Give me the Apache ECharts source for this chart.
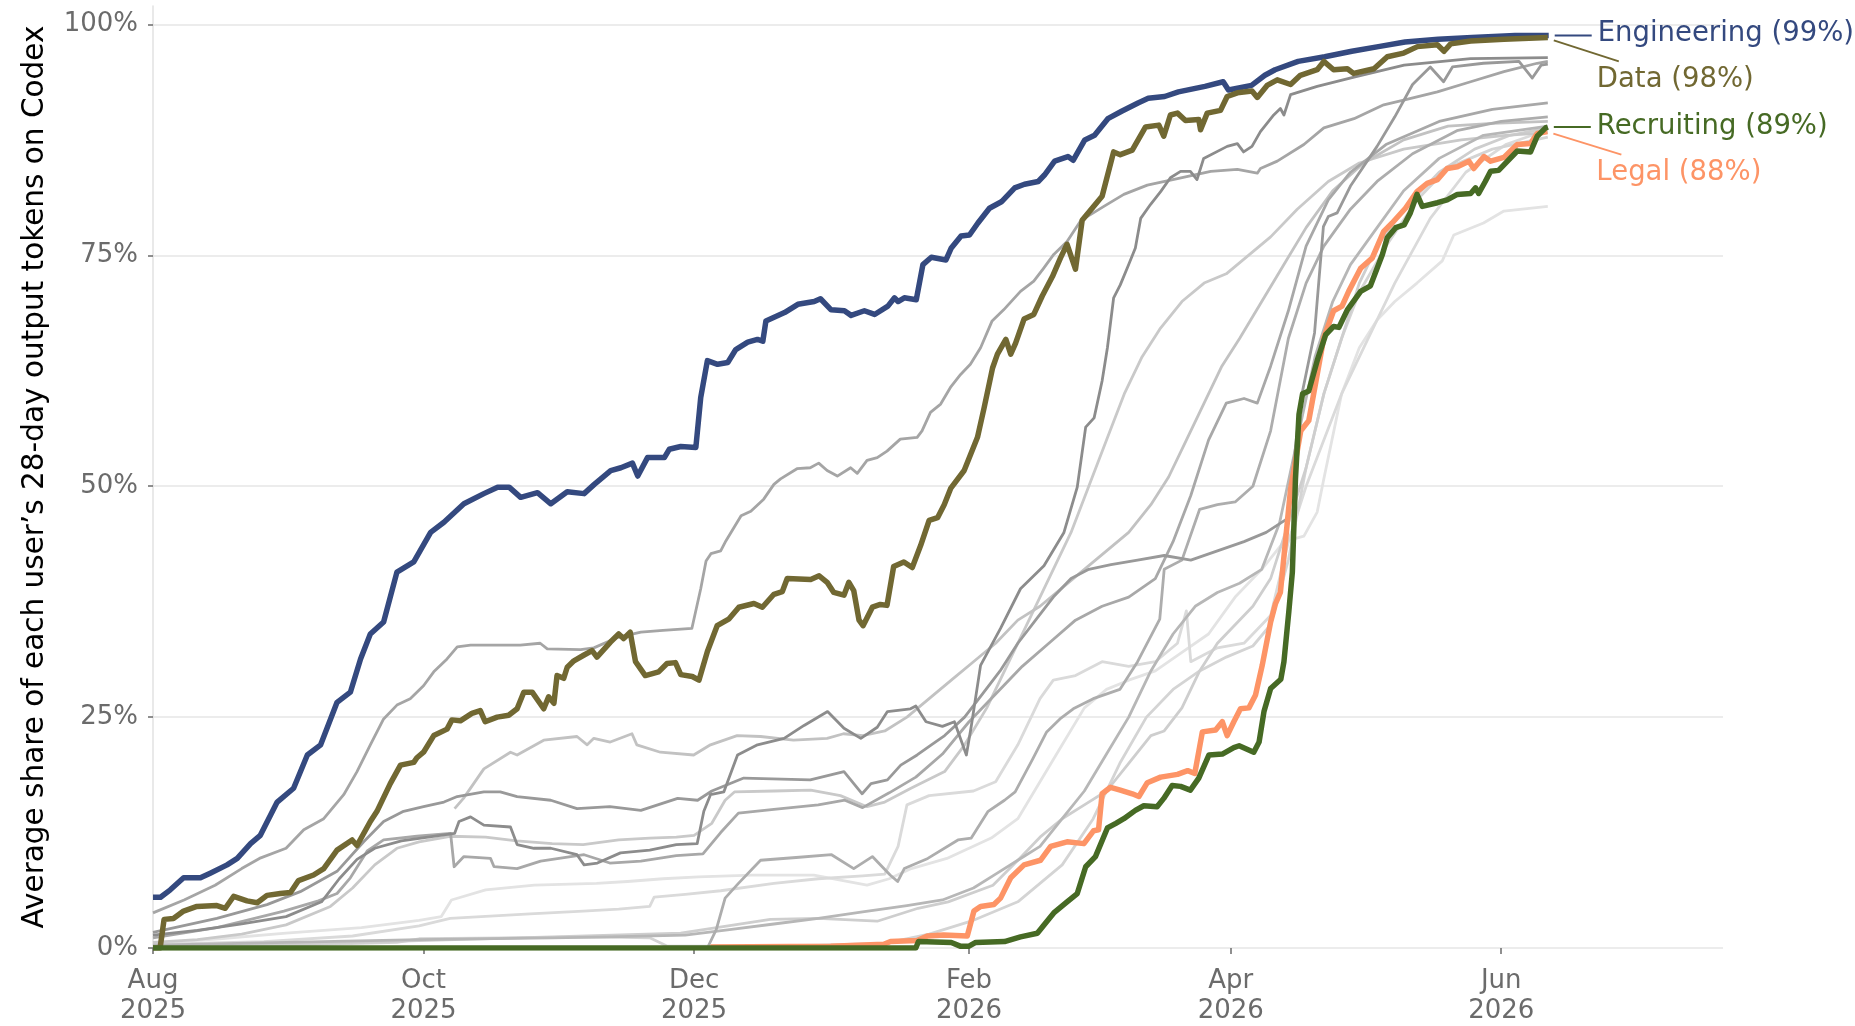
<!DOCTYPE html>
<html>
<head>
<meta charset="utf-8">
<title>Codex share by department</title>
<script src="https://cdn.jsdelivr.net/npm/echarts@6/dist/echarts.min.js"></script>
<style>
  html, body { margin: 0; padding: 0; background: #fff; }
  #main { width: 1855px; height: 1026px; }
</style>
</head>
<body>
<div id="main"></div>
<script>
// x = days since 2025-08-01, y = percent
const dayTicks = [0, 61, 122, 184, 243, 304];
const tickLabels = ['Aug\n2025', 'Oct\n2025', 'Dec\n2025', 'Feb\n2026', 'Apr\n2026', 'Jun\n2026'];
const percentTicks = [0, 25, 50, 75, 100];
const lastDay = 354;

const engineering = [[0,5.5],[1.7,5.5],[3.9,6.3],[6.9,7.6],[10.7,7.6],[12.9,8.1],[16.7,9.0],[19,9.7],[22,11.3],[24.2,12.2],[28,15.8],[31.7,17.3],[34.8,20.9],[37.8,22.0],[41.5,26.6],[44.5,27.7],[46.8,31.3],[49,34.0],[52,35.3],[55,40.7],[58.8,41.8],[62.6,45.0],[65.6,46.1],[70.1,48.1],[74.6,49.2],[77.7,49.9],[80.3,49.9],[82.9,48.8],[86.7,49.3],[89.7,48.1],[93.4,49.4],[97.2,49.2],[99.5,50.2],[103.2,51.7],[105.5,52.0],[108.1,52.5],[109.3,51.1],[111.5,53.1],[115.3,53.1],[116.4,54.0],[119,54.3],[122.4,54.2],[123.5,59.6],[125,63.6],[127.3,63.2],[129.6,63.4],[131.4,64.8],[134.1,65.6],[136.3,65.9],[137.5,65.7],[138.2,67.9],[142.4,68.8],[145.4,69.7],[149.1,70.0],[150.5,70.3],[152.9,69.1],[155.9,69.0],[157.4,68.5],[160.4,69.0],[162.7,68.6],[165.7,69.5],[167.2,70.4],[168,70.0],[169.4,70.4],[172.1,70.2],[173.6,74.0],[175.5,74.8],[178.8,74.5],[180,75.8],[182.2,77.1],[184.1,77.2],[186,78.5],[188.6,80.1],[191.3,80.8],[194.3,82.3],[196.5,82.7],[199.6,83.0],[201,83.7],[203.3,85.2],[206.3,85.7],[207.5,85.3],[210.1,87.5],[212.3,88.0],[215.3,89.8],[218.4,90.6],[222.1,91.5],[224.4,92.0],[228.1,92.2],[231.2,92.7],[237.2,93.3],[241.3,93.8],[242.5,92.9],[247.7,93.4],[250.7,94.5],[253,95.1],[258.2,96.0],[264.2,96.5],[270.3,97.1],[276.3,97.6],[282.3,98.1],[289.8,98.4],[297.4,98.6],[307.1,98.8],[314.7,98.8]];

const dataDept = [[0,0],[1.6,0],[2.5,3.1],[4.6,3.2],[6.9,4.0],[9.9,4.5],[14.4,4.6],[16.3,4.3],[18.2,5.6],[21.2,5.1],[23.5,4.9],[25.7,5.7],[28.7,5.9],[31,6.0],[32.8,7.3],[36.2,7.9],[38.5,8.6],[41.5,10.6],[44.9,11.7],[46,11.1],[49,13.7],[50.5,14.8],[53.5,17.8],[55.8,19.8],[58.8,20.1],[59.5,20.6],[61,21.2],[63.3,23.0],[66.3,23.7],[67.4,24.7],[69.3,24.6],[71.9,25.4],[73.8,25.7],[74.9,24.5],[77.6,25.0],[80.2,25.2],[82.1,25.9],[83.6,27.7],[85.5,27.7],[88.1,25.9],[89.2,27.2],[90.4,26.5],[91.1,29.5],[92.6,29.2],[93.4,30.4],[94.9,31.1],[97.1,31.7],[99,32.2],[100.1,31.5],[103.1,33.1],[105,34.0],[106.1,33.5],[107.6,34.2],[108.8,31.0],[111,29.5],[114,29.9],[115.9,30.8],[117.8,30.9],[119,29.6],[121.6,29.4],[123.1,29.0],[125,32.1],[127.2,34.9],[129.8,35.6],[132.1,36.9],[135.5,37.3],[137.4,36.9],[140,38.3],[141.9,38.6],[143,40.0],[148.3,39.9],[150.2,40.3],[152,39.6],[153.5,38.5],[155.8,38.2],[156.9,39.6],[158,38.7],[159.2,35.5],[160.1,34.9],[162.2,36.9],[164,37.2],[165.5,37.1],[167,41.3],[169.3,41.8],[171.2,41.2],[173.1,43.6],[175,46.3],[176.9,46.6],[178.4,48.0],[179.9,49.8],[182.9,51.7],[185.9,55.3],[187.4,58.5],[189.3,62.8],[190.4,64.3],[192.3,65.9],[193.4,64.3],[194.5,65.5],[196.4,68.1],[198.6,68.6],[200.5,70.6],[202.8,72.7],[204.6,74.7],[206.1,76.2],[208,73.5],[209.5,78.8],[214,81.4],[216.6,86.2],[218.1,85.9],[220.8,86.4],[223.8,88.9],[226.8,89.1],[227.9,87.9],[229.4,90.2],[231,90.4],[232.8,89.6],[235.8,89.7],[236.2,88.6],[237.7,90.4],[240.7,90.7],[242.2,92.2],[244.5,92.6],[247.8,92.8],[249,92.1],[251.2,93.4],[253.5,94.0],[256.5,93.5],[258.7,94.5],[262.5,95.1],[264,96.0],[266.2,95.1],[269.3,95.2],[270.7,94.7],[275.3,95.2],[278.3,96.5],[282,96.9],[285.1,97.6],[289.6,97.8],[291.1,97.1],[292.6,97.9],[297.1,98.2],[304.6,98.4],[314.5,98.6]];

const legal = [[125.7,0.1],[152.8,0.2],[164.8,0.4],[166.3,0.7],[172.3,0.8],[174.6,1.3],[178.3,1.4],[183.6,1.3],[185.1,4.0],[186.6,4.5],[189.6,4.7],[191.1,5.4],[193.4,7.6],[196.4,9.0],[200.1,9.5],[202.4,11.0],[206.1,11.5],[209.9,11.3],[212.1,12.7],[213.2,12.8],[214,16.7],[215.9,17.4],[218.1,17.1],[220.8,16.7],[222.3,16.4],[224.2,17.9],[227.2,18.5],[231,18.8],[233.3,19.2],[234.9,18.9],[236.6,23.4],[239.6,23.6],[241.1,24.5],[242.2,23.0],[243.7,24.5],[245.2,25.9],[247.1,26.0],[248.6,27.4],[250.1,30.6],[252,35.3],[253.1,37.3],[254.2,38.5],[255.4,44.3],[256.5,49.7],[258.8,56.0],[260.6,57.1],[262.5,62.1],[264,66.1],[266.2,69.0],[268.1,69.5],[269.6,71.1],[272.3,73.6],[274.9,74.7],[277.5,77.6],[279.4,78.5],[282.4,80.1],[285,81.9],[287.3,82.8],[289.6,83.2],[291.8,84.4],[294.1,84.6],[296.7,85.2],[297.8,84.4],[300.1,85.7],[301.6,85.2],[304.6,85.6],[307.6,87.0],[310.6,87.1],[312.1,88.2],[314.4,88.4]];

const recruiting = [[0,0],[172,0],[172.6,0.7],[180,0.6],[182,0.2],[184,0.2],[185.5,0.6],[192,0.7],[195.6,1.2],[199.4,1.6],[200.9,2.5],[203.1,3.8],[206.1,5.0],[208.4,5.9],[210.3,8.8],[212.5,9.9],[215.2,13.0],[217.1,13.5],[218.9,14.0],[221.5,14.9],[223.4,15.4],[226.4,15.3],[227.9,16.2],[229.8,17.6],[231.7,17.5],[233.9,17.1],[235.8,18.4],[238.1,20.9],[241.1,21.0],[243.7,21.7],[244.9,21.9],[248.2,21.2],[249.4,22.3],[250.5,25.6],[252,28.1],[254.3,29.1],[255,31.0],[256.1,36.4],[256.9,40.7],[257.6,50.8],[258.4,57.8],[259.2,60.0],[260.6,60.3],[262.5,63.6],[264.4,66.4],[266.2,67.3],[267.4,67.2],[269.3,69.1],[272.3,71.1],[274.5,71.7],[277.2,75.1],[278.3,76.9],[280.2,78.0],[282.1,78.3],[283.5,79.6],[285,81.6],[286.2,80.3],[289.6,80.7],[291.8,81.0],[294.1,81.6],[297.1,81.7],[298.2,82.3],[298.9,81.7],[300.4,83.0],[301.6,84.1],[303.4,84.2],[304.6,84.8],[307.6,86.3],[310.6,86.2],[312.1,87.9],[314,88.8],[314.5,88.9]];

// other departments (grey)
const grayA = [[0,3.8],[7,5.2],[14,6.8],[20,8.6],[24,9.7],[30,10.8],[34,12.8],[38.5,14.0],[43,16.6],[46,19.1],[49,22.0],[52,24.8],[55,26.3],[58,27.0],[61,28.4],[63.3,29.9],[66.3,31.3],[68.6,32.6],[71.6,32.8],[76.8,32.8],[82.8,32.8],[87.3,33.0],[88.9,32.4],[96.4,32.3],[99.4,32.5],[104.6,33.6],[110,34.2],[115,34.4],[121.5,34.6],[123.5,38.9],[124.7,41.9],[125.8,42.7],[128,43.0],[129.2,44.1],[132.6,46.8],[134.8,47.3],[137.7,48.6],[140,50.2],[141.5,50.8],[145.2,51.9],[148.2,52.0],[150.1,52.5],[152,51.7],[154.3,51.1],[157.3,52.0],[158.8,51.4],[161,52.8],[163.3,53.1],[165.5,53.8],[168.5,55.1],[172.3,55.3],[173.4,56.0],[175.3,58.0],[177.6,58.9],[179.8,60.7],[182.1,62.1],[184.3,63.2],[186.6,65.0],[189.2,67.9],[191.8,69.1],[195.6,71.1],[198.6,72.2],[200.8,73.6],[203.1,75.1],[206.1,76.5],[209.1,78.7],[210,79.0],[214.4,80.3],[218.9,81.6],[224.2,82.6],[231,83.3],[238.5,84.1],[244.5,84.3],[249,83.9],[249.7,84.4],[253.5,85.2],[259.5,87.0],[264,88.8],[270.8,89.8],[277.5,91.3],[282,91.8],[289.6,92.7],[297.1,93.8],[304.6,94.9],[312.1,95.8],[314.5,96.0]];
const grayB = [[0,1.4],[10,1.9],[20,2.6],[30,3.4],[38,5.0],[42,7.5],[46,9.6],[50,10.8],[56,11.6],[62,12.0],[68,12.4],[69,13.7],[71.6,14.2],[74.6,13.3],[80.6,13.1],[82.1,11.2],[85.9,10.8],[89.7,10.8],[95.6,10.1],[97.2,9.0],[100.2,9.2],[105.4,10.3],[112,10.6],[118,11.2],[122.7,11.3],[124.2,14.8],[125.7,16.6],[128.7,16.9],[131.8,20.9],[136.3,22.0],[142.3,22.7],[146.8,24.1],[152.1,25.6],[155.8,23.8],[159.6,22.7],[163.3,23.9],[165.6,25.6],[170.8,25.9],[172,26.2],[174.3,24.5],[178,24.0],[180.7,24.5],[183.4,20.9],[184.5,24.0],[186.6,30.6],[191.1,34.6],[195.6,38.9],[200.9,41.4],[205.4,45.0],[208.4,49.9],[210.3,56.4],[212.2,57.4],[214,61.4],[215.2,65.0],[216.6,70.4],[218.1,71.8],[220,74.0],[221.5,75.8],[222.7,79.0],[224.9,80.5],[227.2,81.9],[229.4,83.4],[231.7,84.1],[233.9,84.1],[235.4,83.2],[236.9,85.5],[242.2,86.8],[244.5,87.1],[245.9,86.2],[247.8,86.8],[249.7,88.4],[252.7,90.2],[254.2,90.9],[255,90.2],[256.5,92.4],[262.5,93.3],[270.8,94.3],[282.1,95.6],[297.1,96.3],[314.5,96.4]];
const grayC = [[68,15.1],[70,16.2],[74.6,19.4],[80.6,21.2],[82.1,20.9],[88.1,22.5],[95.6,22.9],[97.9,22.0],[99.4,22.7],[103.1,22.3],[108,23.2],[109.1,22.0],[114.4,21.2],[121.9,20.9],[125.7,22.0],[131.7,23.0],[137,22.9],[144.4,22.5],[152,22.7],[155.7,23.2],[160,23.0],[165,23.5],[170,25],[175,27],[180,29],[185,31],[190,33],[195,35.5],[200,37],[205,39],[210,41],[215,43],[220,45],[225,48],[229,51],[233,55],[237,59],[241,63],[245,66],[250,70],[255,74],[260,78],[266,82],[273,85],[282,87.5],[292,89],[302,89.3],[314.5,89.5]];
const grayD = [[0,1.7],[14.4,3.2],[25.7,4.7],[33.2,6.1],[41.5,8.3],[47.5,11.5],[52,13.7],[56.5,14.8],[61,15.3],[65.6,15.8],[68.6,16.4],[74.6,16.9],[78.3,16.9],[82.1,16.4],[89.7,16.0],[95.6,15.1],[103,15.3],[110,14.9],[118.3,16.2],[122.8,16.0],[126,17.0],[133.2,18.4],[148.2,18.2],[155.8,19.1],[159.9,16.7],[161.9,17.8],[165.6,18.2],[168.6,19.8],[172.3,20.9],[175.5,22.0],[178.5,23.0],[183,25.0],[187,27.5],[191,30.0],[195,33.0],[199,35.5],[203,38.0],[207,40.0],[211,41.0],[216,41.5],[222,42.0],[228,42.5],[234,42.0],[240,43.0],[246,44.0],[251,45.0],[255.8,46.5],[258.8,59.4],[261.9,66.6],[263.9,78.1],[265,79.2],[267,79.6],[270,82.5],[276,86.8],[280,90.0],[284,93.5],[288,95.4],[291,93.8],[293,95.4],[300,95.8],[308,96.0],[311,94.2],[313,95.6],[314.5,95.7]];
const grayE = [[0,0.6],[10,0.9],[20,1.5],[30,2.5],[40,4.5],[45,6.5],[50,9.0],[55,10.8],[60,11.5],[67,12.1],[75,12.0],[82,11.6],[90,11.3],[97,11.2],[105,11.7],[112,11.9],[118,12.0],[122,12.2],[126,13.5],[129,16.0],[131.1,16.9],[140,17.0],[148.3,17.1],[155,16.5],[161,15.3],[165,15.8],[170.9,17.3],[178.5,19.1],[183,22],[188,26],[193,31],[198,36],[203,41],[207,45],[211,50],[215,55],[219,60],[223,64],[227,67],[232,70],[237,72],[242,73],[247,75],[252,77],[258,80],[265,83],[272,85],[282,86.5],[295,87.5],[305,88],[314.5,88.3]];
const grayF = [[0,1.1],[14.4,2.2],[20.4,2.9],[29.5,4.0],[37.3,5.1],[41.5,5.9],[44.5,7.6],[48.3,10.5],[52,11.7],[59.5,12.1],[67.1,12.4],[67.9,8.8],[70.1,9.9],[76.1,9.7],[76.9,8.8],[82.1,8.6],[87.4,9.4],[97.2,10.1],[103,9.2],[110,9.4],[118,10.0],[124,10.2],[128,12.5],[132,14.6],[140,15.0],[150,15.5],[156,16.0],[160,15.2],[166,16.8],[172,18.5],[178,21.0],[184,24.5],[190,27.5],[196,30.5],[202,33.0],[208,35.5],[214,37.0],[220,38.0],[226,40.0],[230,44.0],[234,49.0],[238,55.0],[242,59.0],[246,59.5],[249,59.0],[252,63.0],[256,69.0],[260,76.0],[265,81.0],[270,84.0],[278,87.0],[290,89.5],[302,90.8],[314.5,91.5]];
const grayH = [[0,0.5],[15,1.0],[30,1.6],[47,2.2],[60,3.0],[65,3.4],[67.3,5.2],[75,6.3],[86,6.8],[100,7.0],[107,7.2],[115,7.5],[123,7.7],[135,7.9],[149,7.9],[161,6.8],[166,7.5],[171,8.6],[179,9.7],[189,11.9],[195,14],[200,18],[205,22],[210,26],[215,28],[220,29],[226,30],[232,32],[238,34],[244,38],[250,41],[255,44],[259.5,44.6],[262.5,47.2],[264,50.8],[268,60],[272,65],[276,68],[280,70],[285,72],[290.7,74.4],[293.3,77.2],[300,78.5],[304.6,79.8],[314.5,80.3]];
const grayI = [[0,0.4],[25,0.7],[45,1.3],[60,2.4],[67,3.2],[85,3.7],[97,4.0],[105,4.2],[112,4.5],[113,5.5],[120,5.8],[128,6.2],[140,7.0],[150,7.5],[160,7.8],[165,8.0],[168,11],[170,15.5],[175,16.5],[185,17.0],[190,18],[195,22],[200,27],[203,29],[208,29.5],[214,31],[220,30.5],[226,31],[231,33],[233,36.5],[234,31],[240,32.5],[246,33],[252,36],[256,44],[260,50],[264,55],[268,60],[274,66],[280,72],[288,79],[296,84],[305,87],[314.5,88.6]];
const grayJ = [[0,0.3],[30,0.6],[60,0.9],[90,1.1],[103,1.2],[120,1.4],[130,2.0],[140,2.6],[150,3.2],[160,3.9],[170,4.6],[178,5.2],[185,6.5],[190,8.0],[195,9.5],[200,11.0],[205,14.0],[210,17.0],[215,21.0],[220,25.0],[225,30.0],[230,34.0],[235,37.0],[240,38.5],[245,39.5],[250,41.0],[254,46.0],[258,55.0],[262,64.0],[266,70.0],[270,74.0],[276,78.0],[282,82.0],[290,85.5],[300,88.0],[314.5,89.0]];
const grayK = [[125,0],[127,2.0],[129,5.4],[132,7.0],[137,9.5],[145,9.8],[153,10.1],[158,8.6],[162.2,9.9],[166.2,7.9],[167.9,7.2],[169.4,8.6],[174.7,9.7],[181.5,11.7],[184.5,11.9],[188.3,14.8],[192,16.0],[194.4,16.9],[198.4,20.5],[201.5,23.4],[204.5,24.8],[207.5,25.9],[212,27.0],[218,28.0],[222,31.0],[227,35.6],[228,41.0],[232,42.0],[236,47.5],[240,48.0],[244,48.3],[248,50.0],[252,56.0],[256,66.0],[260,72.0],[264,76.0],[270,80.0],[276,83.0],[284,86.0],[294,88.5],[304,89.5],[314.5,90.0]];
const grayL = [[0,0.2],[30,0.4],[60,0.8],[90,1.2],[119,1.6],[139.2,3.1],[150,3.2],[163.3,2.9],[172.5,4.3],[179.3,5.0],[189.4,6.8],[195.4,9.7],[200,12.0],[205,14.0],[210,15.5],[215,17.0],[220,20.0],[225,23.0],[228,23.5],[232,26.0],[236,30.0],[240,33.0],[244,35.0],[248,37.0],[252,40.0],[256,46.0],[260,52.0],[264,60.0],[268,66.0],[272,72.0],[276,76.0],[282,80.0],[290,84.0],[298,86.5],[306,88.0],[314.5,88.8]];
const grayM = [[0,0.1],[30,0.3],[55,0.6],[60,1.0],[80,1.1],[100,1.2],[112,1.1],[116,0.2],[130,0.2],[150,0.3],[165,0.5],[175,1.5],[185,3.0],[195,5.0],[205,9.0],[212,14.0],[218,20.0],[224,25.0],[230,28.0],[236,30.0],[242,31.5],[248,32.7],[252,35.0],[256,42.0],[260,52.0],[264,60.0],[268,66.0],[272,71.0],[278,76.0],[285,81.0],[292,84.5],[302,86.5],[314.5,87.8]];

// lightest drawn first
const grayLines = [
  { data: grayH, color: '#e3e3e3' },
  { data: grayI, color: '#dadada' },
  { data: grayM, color: '#d4d4d4' },
  { data: grayL, color: '#cecece' },
  { data: grayE, color: '#c9c9c9' },
  { data: grayC, color: '#c2c2c2' },
  { data: grayJ, color: '#b7b7b7' },
  { data: grayK, color: '#adadad' },
  { data: grayF, color: '#a8a8a8' },
  { data: grayA, color: '#a5a5a5' },
  { data: grayD, color: '#999999' },
  { data: grayB, color: '#8c8c8c' }
];

const highlights = [
  { name: 'Engineering', data: engineering, color: '#34497f', label: 'Engineering (99%)', lead: [6, 0, 43, 0], text: [49, -1.5] },
  { name: 'Data', data: dataDept, color: '#716832', label: 'Data (98%)', lead: [6, 3, 71, 24], text: [49, 42.5] },
  { name: 'Legal', data: legal, color: '#fd9466', label: 'Legal (88%)', lead: [6, 2, 74, 23], text: [49, 41.5] },
  { name: 'Recruiting', data: recruiting, color: '#466a24', label: 'Recruiting (89%)', lead: [6, 0, 43, 0], text: [49, -0.5] }
];

const font = 'DejaVu Sans';
const chart = echarts.init(document.getElementById('main'));

const series = [];
grayLines.forEach(function (g) {
  series.push({
    type: 'line', data: g.data, symbol: 'none', silent: true,
    lineStyle: { color: g.color, width: 2.8, join: 'round' }
  });
});
highlights.forEach(function (h) {
  series.push({
    name: h.name, type: 'line', data: h.data, symbol: 'none', silent: true,
    lineStyle: { color: h.color, width: 5.5, join: 'round' }
  });
});

chart.setOption({
  animation: false,
  backgroundColor: '#ffffff',
  grid: { left: 153, right: 132, top: 6, bottom: 75, containLabel: false },
  xAxis: {
    type: 'value', min: 0, max: lastDay,
    axisLine: { show: false },
    splitLine: { show: false },
    axisTick: { show: true, customValues: dayTicks, length: 6, lineStyle: { color: '#6b6b6b', width: 1.5 } },
    axisLabel: {
      customValues: dayTicks, margin: 18, color: '#6b6b6b', fontSize: 26, lineHeight: 30, fontFamily: font,
      formatter: function (v) { return tickLabels[dayTicks.indexOf(v)]; }
    }
  },
  yAxis: {
    type: 'value', min: 0, max: 102, interval: 25,
    name: 'Average share of each user\u2019s 28-day output tokens on Codex',
    nameLocation: 'middle', nameGap: 103,
    nameTextStyle: { fontSize: 29.5, color: '#000', fontFamily: font },
    axisLine: { show: true, lineStyle: { color: '#e2e2e2', width: 1.5 } },
    axisTick: { show: true, customValues: percentTicks, length: 5, lineStyle: { color: '#6b6b6b', width: 1.5 } },
    splitLine: { show: true, lineStyle: { color: '#e6e6e6', width: 1.5 } },
    axisLabel: {
      customValues: percentTicks, margin: 15, color: '#6b6b6b', fontSize: 26, fontFamily: font,
      formatter: function (v) { return v + '%'; }
    }
  },
  series: series
});

// end labels with leader lines, anchored on each line's last point
const graphics = [];
highlights.forEach(function (h) {
  const end = chart.convertToPixel({ gridIndex: 0 }, h.data[h.data.length - 1]);
  graphics.push({
    type: 'line', silent: true,
    shape: { x1: end[0] + h.lead[0], y1: end[1] + h.lead[1], x2: end[0] + h.lead[2], y2: end[1] + h.lead[3] },
    style: { stroke: h.color, lineWidth: 2 }
  });
  graphics.push({
    type: 'text', silent: true, x: end[0] + h.text[0], y: end[1] + h.text[1],
    style: { text: h.label, fill: h.color, fontSize: 27.5, fontFamily: font, align: 'left', verticalAlign: 'middle' }
  });
});
chart.setOption({ graphic: graphics });
</script>
</body>
</html>
